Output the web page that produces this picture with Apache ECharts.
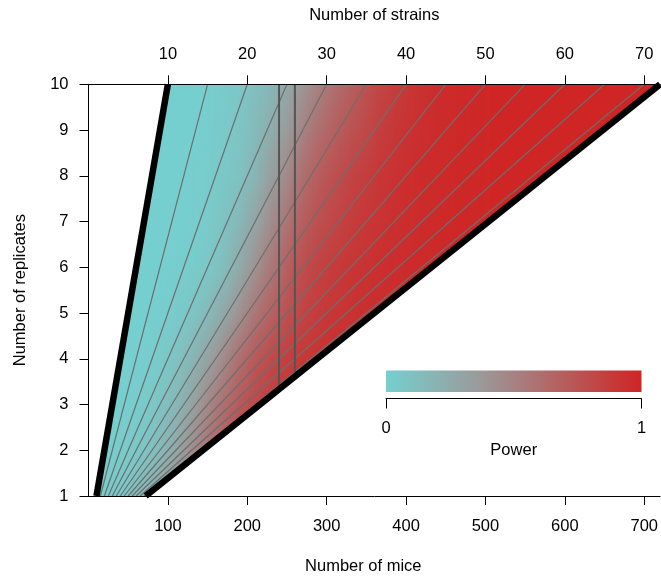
<!DOCTYPE html>
<html>
<head>
<meta charset="utf-8">
<title>Power by number of mice and replicates</title>
<script src="https://cdn.jsdelivr.net/npm/echarts@6/dist/echarts.min.js"></script>
<style>
  html, body { margin: 0; padding: 0; background: #fff; }
  #chart { width: 661px; height: 580px; }
</style>
</head>
<body>
<div id="chart"></div>
<script>
// axis ticks
const miceTicks = [100, 200, 300, 400, 500, 600, 700];
const strainTicks = [10, 20, 30, 40, 50, 60, 70];
const replicateTicks = [1, 2, 3, 4, 5, 6, 7, 8, 9, 10];
const powerTicks = [0, 1];

// design limits: mice = strains * replicates
const minStrains = 10;
const maxStrains = 72;
const strainLines = [15, 20, 25, 30, 35, 40, 45, 50, 55, 60, 65, 70];
const miceLines = [240, 260];

// power, one row per number of replicates, columns = mice
const miceCols = [10, 30, 50, 70, 90, 110, 130, 150, 170, 190, 210, 230, 250, 270, 290, 310, 330, 350,
                  370, 390, 410, 430, 450, 470, 490, 510, 530, 550, 570, 590, 610, 630, 650, 670, 690, 710];
const power_r1 = [0.01,0.03,0.07,0.15,0.28,0.44,0.60,0.73,0.83,0.90,0.94,0.97,0.98,0.99,0.99,1,1,1,1,1,1,1,1,1,1,1,1,1,1,1,1,1,1,1,1,1];
const power_r2 = [0,0.01,0.03,0.07,0.14,0.27,0.43,0.58,0.70,0.80,0.87,0.92,0.95,0.97,0.98,0.99,0.99,1,1,1,1,1,1,1,1,1,1,1,1,1,1,1,1,1,1,1];
const power_r3 = [0,0,0.01,0.03,0.08,0.16,0.30,0.46,0.60,0.72,0.81,0.87,0.91,0.94,0.96,0.97,0.98,0.99,0.99,1,1,1,1,1,1,1,1,1,1,1,1,1,1,1,1,1];
const power_r4 = [0,0,0,0.01,0.03,0.08,0.17,0.30,0.45,0.60,0.72,0.80,0.86,0.90,0.93,0.95,0.96,0.97,0.98,0.99,0.99,1,1,1,1,1,1,1,1,1,1,1,1,1,1,1];
const power_r5 = [0,0,0,0,0.01,0.03,0.07,0.14,0.26,0.41,0.56,0.67,0.76,0.83,0.88,0.91,0.93,0.95,0.96,0.97,0.98,0.99,0.99,1,1,1,1,1,1,1,1,1,1,1,1,1];
const power_r6 = [0,0,0,0,0,0.01,0.02,0.05,0.12,0.25,0.41,0.55,0.68,0.78,0.84,0.88,0.91,0.93,0.95,0.96,0.97,0.98,0.99,0.99,1,1,1,1,1,1,1,1,1,1,1,1];
const power_r7 = [0,0,0,0,0,0,0.01,0.03,0.08,0.16,0.29,0.44,0.57,0.69,0.77,0.82,0.87,0.90,0.93,0.95,0.96,0.97,0.98,0.99,0.99,1,1,1,1,1,1,1,1,1,1,1];
const power_r8 = [0,0,0,0,0,0,0.01,0.02,0.05,0.09,0.18,0.33,0.46,0.60,0.70,0.77,0.83,0.87,0.91,0.94,0.96,0.97,0.98,0.99,0.99,1,1,1,1,1,1,1,1,1,1,1];
const power_r9 = [0,0,0,0,0,0,0,0.01,0.04,0.07,0.14,0.24,0.36,0.49,0.60,0.68,0.75,0.81,0.87,0.91,0.94,0.96,0.97,0.98,0.99,1,1,1,1,1,1,1,1,1,1,1];
const power_r10 = [0,0,0,0,0,0,0,0.01,0.03,0.06,0.11,0.17,0.27,0.39,0.50,0.60,0.68,0.76,0.83,0.88,0.92,0.95,0.97,0.98,0.99,1,1,1,1,1,1,1,1,1,1,1];
const powerRows = [power_r1, power_r2, power_r3, power_r4, power_r5, power_r6, power_r7, power_r8, power_r9, power_r10];

// colour ramp cyan -> grey -> red
const powerStops = [[0, [118, 207, 207]], [0.38, [156, 152, 152]], [1, [207, 37, 37]]];
function powerColor(p) {
    for (let i = 1; i < powerStops.length; i++) {
        const a = powerStops[i - 1], b = powerStops[i];
        if (p <= b[0] || i === powerStops.length - 1) {
            const t = Math.max(0, Math.min(1, (p - a[0]) / (b[0] - a[0])));
            const c = a[1].map((v, k) => Math.round(v + (b[1][k] - v) * t));
            return 'rgb(' + c.join(',') + ')';
        }
    }
}

// keep the part of a polygon where f(x, y) >= 0
function clipPoly(poly, f) {
    const out = [];
    for (let i = 0; i < poly.length; i++) {
        const a = poly[i], b = poly[(i + 1) % poly.length];
        const fa = f(a[0], a[1]), fb = f(b[0], b[1]);
        if (fa >= 0) out.push(a);
        if ((fa >= 0) !== (fb >= 0)) {
            const t = fa / (fa - fb);
            out.push([a[0] + t * (b[0] - a[0]), a[1] + t * (b[1] - a[1])]);
        }
    }
    return out;
}

// one cell between two mice columns and two replicate rows: [mLeft, mRight, rep, pLeftLow, pRightLow, pLeftUp, pRightUp]
const cells = [];
const last = miceCols.length - 1;
for (let j = 0; j < replicateTicks.length - 1; j++) {
    const lo = powerRows[j], up = powerRows[j + 1], r = replicateTicks[j];
    cells.push([0, miceCols[0], r, lo[0], lo[0], up[0], up[0]]);
    for (let k = 0; k < last; k++) {
        cells.push([miceCols[k], miceCols[k + 1], r, lo[k], lo[k + 1], up[k], up[k + 1]]);
    }
    cells.push([miceCols[last], 720, r, lo[last], lo[last], up[last], up[last]]);
}

// xMin / xMax optionally keep only a band of mice (the band between the two vertical lines is painted over the grey lines)
function cellRenderer(xMin, xMax) {
    return function (params, api) {
        const mL = api.value(0), mR = api.value(1), r = api.value(2);
        if (mR < xMin || mL > xMax) return;
        const pLL = api.value(3), pRL = api.value(4), pLU = api.value(5), pRU = api.value(6);
        const yA = api.coord([mL, r])[1], yB = api.coord([mL, r + 1])[1];
        const n = 5, eps = 0.6;
        const children = [];
        for (let i = 0; i < n; i++) {
            const x0 = mL + (mR - mL) * i / n, x1 = mL + (mR - mL) * (i + 1) / n;
            const t = (i + 0.5) / n;
            let poly = [[x0 - eps, r - 0.02], [x1 + eps, r - 0.02], [x1 + eps, r + 1.02], [x0 - eps, r + 1.02]];
            poly = clipPoly(poly, (x, y) => x - minStrains * y);
            poly = clipPoly(poly, (x, y) => maxStrains * y - x);
            poly = clipPoly(poly, (x, y) => x - xMin);
            poly = clipPoly(poly, (x, y) => xMax - x);
            if (poly.length < 3) continue;
            children.push({
                type: 'polygon',
                shape: { points: poly.map(d => api.coord(d)) },
                style: {
                    fill: new echarts.graphic.LinearGradient(0, yA, 0, yB, [
                        { offset: 0, color: powerColor(pLL + (pRL - pLL) * t) },
                        { offset: 1, color: powerColor(pLU + (pRU - pLU) * t) }
                    ], true)
                }
            });
        }
        return { type: 'group', children: children };
    };
}

function renderBar(params, api) {
    const a = api.coord([api.value(0), 0]), b = api.coord([api.value(1), 1]);
    return {
        type: 'rect',
        shape: { x: a[0], y: b[1], width: b[0] - a[0], height: a[1] - b[1] },
        style: {
            fill: new echarts.graphic.LinearGradient(0, 0, 1, 0,
                powerStops.map(s => ({ offset: s[0], color: 'rgb(' + s[1].join(',') + ')' })))
        }
    };
}

const font = 'Liberation Sans, Arial, Helvetica, sans-serif';
const txt = { color: '#000', fontSize: 16.5, fontFamily: font };
const blackLine = { show: true, lineStyle: { color: '#000', width: 1 } };
const tick = { show: true, inside: false, length: 9, lineStyle: { color: '#000', width: 1 } };

function segment(points, color, width) {
    return {
        type: 'line', xAxisIndex: 0, yAxisIndex: 0, data: points,
        showSymbol: false, silent: true, clip: true,
        lineStyle: { color: color, width: width }
    };
}

function heat(xMin, xMax) {
    return {
        type: 'custom', xAxisIndex: 0, yAxisIndex: 0, data: cells,
        renderItem: cellRenderer(xMin, xMax), clip: true, silent: true,
        encode: { x: [0, 1], y: 2 }
    };
}

const series = [heat(0, 720)];
strainLines.forEach(s => series.push(segment([[s * 1, 1], [s * 10, 10]], '#6e6e6e', 1.2)));
series.push(heat(miceLines[0], miceLines[1]));
miceLines.forEach(m => series.push(segment([[m, m / maxStrains], [m, 10]], '#555', 2)));
series.push(segment([[minStrains * 1, 1], [minStrains * 10, 10]], '#000', 6.5));
series.push(segment([[maxStrains * 1, 1], [maxStrains * 10, 10]], '#000', 6.5));
series.push({
    type: 'custom', xAxisIndex: 2, yAxisIndex: 1, data: [[powerTicks[0], powerTicks[1]]],
    renderItem: renderBar, silent: true, encode: { x: [0, 1] }
});

const chart = echarts.init(document.getElementById('chart'));
chart.setOption({
    animation: false,
    grid: [
        { left: 88.5, top: 84.3, width: 574.5, height: 414 },
        { left: 386, top: 370.5, width: 255.5, height: 21.5 }
    ],
    xAxis: [{
        type: 'value', gridIndex: 0, min: 0, max: 720, position: 'bottom', z: 10,
        axisLine: { ...blackLine, onZero: false },
        axisTick: { ...tick, customValues: miceTicks },
        axisLabel: { ...txt, margin: 21.5, customValues: miceTicks },
        splitLine: { show: false },
        name: 'Number of mice', nameLocation: 'middle', nameGap: 62,
        nameTextStyle: { ...txt, padding: [0, 22, 0, 0] }
    }, {
        type: 'value', gridIndex: 0, min: 0, max: 72, position: 'top', z: 10,
        axisLine: { ...blackLine, onZero: false },
        axisTick: { ...tick, customValues: strainTicks },
        axisLabel: { ...txt, margin: 21, customValues: strainTicks },
        splitLine: { show: false },
        name: 'Number of strains', nameLocation: 'middle', nameGap: 60,
        nameTextStyle: txt
    }, {
        type: 'value', gridIndex: 1, min: 0, max: 1, interval: 1, position: 'bottom', offset: 6.5,
        axisLine: { ...blackLine, onZero: false },
        axisTick: { ...tick, length: 10 },
        axisLabel: { ...txt, margin: 21.5 },
        splitLine: { show: false },
        name: 'Power', nameLocation: 'middle', nameGap: 43.5, nameTextStyle: txt
    }],
    yAxis: [{
        type: 'value', gridIndex: 0, min: 1, max: 10, interval: 1, z: 10,
        axisLine: { ...blackLine, onZero: false },
        axisTick: tick,
        axisLabel: { ...txt, margin: 20 },
        splitLine: { show: false },
        name: 'Number of replicates', nameLocation: 'middle', nameGap: 60,
        nameTextStyle: txt
    }, {
        type: 'value', gridIndex: 1, min: 0, max: 1, show: false
    }],
    series: series
});
</script>
</body>
</html>
